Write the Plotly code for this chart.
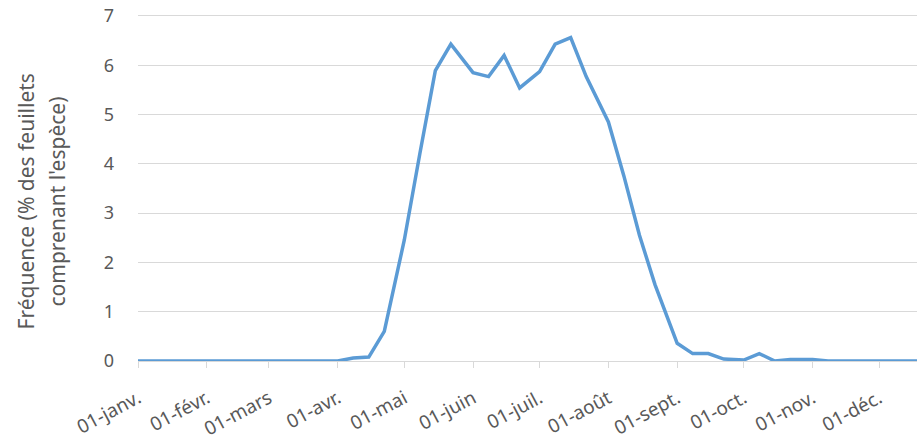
import plotly.graph_objects as go
import pandas as pd

# Data: observations on the 1st, 8th, 15th and 22nd of each month
months = list(range(1, 13))
days_of_month = [1, 8, 15, 22]
dates = [pd.Timestamp(2019, m, d) for m in months for d in days_of_month]

frequence = [
    0, 0, 0, 0,            # janv.
    0, 0, 0, 0,            # févr.
    0, 0, 0, 0,            # mars
    0, 0.06, 0.08, 0.6,    # avr.
    2.45, 4.2, 5.89, 6.43, # mai
    5.85, 5.77, 6.2, 5.54, # juin
    5.87, 6.43, 6.56, 5.77,# juil.
    4.85, 3.75, 2.55, 1.55,# août
    0.36, 0.15, 0.15, 0.04,# sept.
    0.02, 0.15, 0.0, 0.03, # oct.
    0.03, 0, 0, 0,         # nov.
    0, 0, 0, 0,            # déc.
]

tick_dates = [pd.Timestamp(2019, m, 1) for m in months]
tick_labels = ["01-janv.", "01-févr.", "01-mars", "01-avr.", "01-mai", "01-juin",
               "01-juil.", "01-août", "01-sept.", "01-oct.", "01-nov.", "01-déc."]
y_ticks = [0, 1, 2, 3, 4, 5, 6, 7]

y_title_lines = ["Fréquence (% des feuillets", "comprenant l'espèce)"]

fig = go.Figure()
fig.add_trace(go.Scatter(
    x=dates, y=frequence, mode="lines",
    line=dict(color="#5b9bd5", width=3.5),
    showlegend=False, cliponaxis=True, hoverinfo="skip",
))

font_family = "Noto Sans, Open Sans, sans-serif"
grey = "#595959"

fig.update_layout(
    width=917, height=440,
    margin=dict(l=138, r=0, t=14, b=79),
    paper_bgcolor="white", plot_bgcolor="white",
    font=dict(family=font_family, color=grey, size=16),
    xaxis=dict(
        type="date",
        automargin=False,
        range=[pd.Timestamp(2019, 1, 1), pd.Timestamp(2019, 12, 18, 2)],
        tickvals=tick_dates, ticktext=tick_labels,
        tickangle=-28,
        showgrid=False,
        showline=True, linecolor="#d9d9d9", linewidth=1,
        ticks="outside", ticklen=6, tickcolor="#d9d9d9",
        ticklabelstandoff=12,
        ticklabeloverflow="allow",
        tickfont=dict(size=19, color=grey),
        zeroline=False,
    ),
    yaxis=dict(
        automargin=False,
        range=[0, 7.04],
        tickvals=y_ticks,
        showgrid=True, gridcolor="#d9d9d9", gridwidth=1,
        zeroline=False, showline=False,
        ticks="", ticklabelstandoff=23,
        ticklabeloverflow="allow",
        tickfont=dict(size=18, color=grey),
    ),
)

# two-line rotated axis title (Excel-like spacing)
for i, line in enumerate(y_title_lines):
    fig.add_annotation(
        text=line, textangle=-90,
        xref="paper", yref="paper",
        x=0, xshift=-138 + 25 + 31 * i,
        y=0.5, yshift=-14,
        xanchor="center", yanchor="middle",
        showarrow=False,
        font=dict(size=21, color=grey, family=font_family),
    )

fig.write_html(
    "out.html",
    config={"displayModeBar": False, "staticPlot": True},
    post_script="document.body.style.margin='0';document.body.style.overflow='hidden';",
)
